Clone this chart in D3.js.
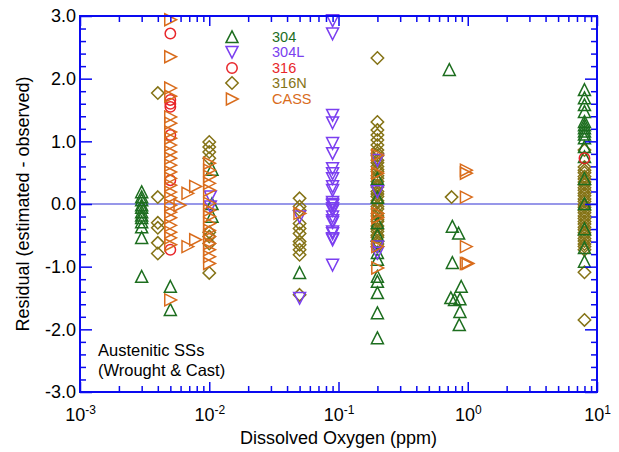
<!DOCTYPE html>
<html>
<head>
<meta charset="utf-8">
<script src="https://cdn.jsdelivr.net/npm/d3@7"></script>
<style>
  html, body { margin: 0; padding: 0; background: #fff; }
  svg { display: block; }
  text { font-family: "Liberation Sans", Arial, sans-serif; }
</style>
</head>
<body>
<svg id="chart" width="619" height="452"></svg>
<script>
// ---------------- DATA ----------------
const seriesNames = ["304", "304L", "316", "316N", "CASS"];
const seriesColors = ["#1d6e1f", "#7b3ff0", "#e8262a", "#857316", "#d96c1c"];

// each point: [dissolved oxygen (ppm), residual]
const data304 = [
  [0.003,0.19],[0.003,0.11],[0.003,0.06],[0.003,-0.02],[0.003,-0.06],[0.003,-0.13],[0.003,-0.18],
  [0.003,-0.22],[0.003,-0.29],[0.003,-0.37],[0.003,-0.54],[0.003,-1.16],
  [0.005,-1.32],[0.005,-1.69],
  [0.0105,0.55],[0.0105,0.0],[0.0105,-0.2],
  [0.05,-1.1],
  [0.2,0.4],[0.2,0.1],[0.2,-0.3],[0.2,-0.5],[0.2,-0.78],[0.2,-0.89],[0.2,-1.16],[0.2,-1.24],
  [0.2,-1.42],[0.2,-1.74],[0.2,-2.14],
  [0.72,2.14],[0.76,-0.36],[0.85,-0.47],[0.76,-0.94],[0.89,-1.32],[0.74,-1.5],[0.79,-1.53],
  [0.87,-1.52],[0.87,-1.72],[0.86,-1.93],
  [8,1.82],[8,1.69],[8,1.58],[8,1.47],[8,1.31],[8,1.26],[8,1.21],[8,1.16],[8,1.11],[8,1.05],
  [8,0.91],[8,0.75],[8,0.4],[8,0.0],[8,-0.4],[8,-0.7],[8,-0.92]
];
const data304L = [
  [0.0102,0.12],[0.0102,-0.04],
  [0.05,-0.2],[0.05,-1.5],
  [0.09,2.93],[0.09,2.72],[0.09,1.42],[0.09,1.3],[0.09,0.97],[0.09,0.81],[0.09,0.57],[0.09,0.49],
  [0.09,0.41],[0.09,0.28],[0.09,0.22],[0.09,0.03],[0.09,0.0],[0.09,-0.02],[0.09,-0.07],[0.09,-0.1],
  [0.09,-0.2],[0.09,-0.26],[0.09,-0.29],[0.09,-0.44],[0.09,-0.47],[0.09,-0.55],[0.09,-0.57],[0.09,-0.97],
  [0.2,0.7],[0.2,0.2],[0.2,-0.68],[0.2,-0.78]
];
const data316 = [
  [0.005,2.72],[0.005,1.66],[0.005,1.6],[0.005,1.55],[0.005,1.1],[0.005,0.38],[0.005,-0.73],
  [8,0.73]
];
const data316N = [
  [0.004,1.77],[0.004,0.11],[0.004,-0.3],[0.004,-0.38],[0.004,-0.62],[0.004,-0.79],
  [0.01,0.99],[0.01,0.91],[0.01,0.83],[0.01,0.73],[0.01,-0.45],[0.01,-0.52],[0.01,-0.63],[0.01,-1.1],
  [0.05,0.09],[0.05,-0.04],[0.05,-0.1],[0.05,-0.31],[0.05,-0.39],[0.05,-0.47],[0.05,-0.6],
  [0.05,-0.65],[0.05,-0.73],[0.05,-0.81],[0.05,-1.45],
  [0.2,2.33],[0.2,1.31],[0.2,1.18],[0.2,1.1],[0.2,1.02],[0.2,0.94],[0.2,0.86],[0.2,0.81],[0.2,0.77],
  [0.2,0.7],[0.2,0.66],[0.2,0.6],[0.2,0.55],[0.2,0.52],[0.2,0.45],[0.2,0.41],[0.2,0.36],[0.2,0.3],
  [0.2,0.27],[0.2,0.2],[0.2,0.16],[0.2,0.12],[0.2,0.05],[0.2,0.02],[0.2,-0.04],[0.2,-0.08],[0.2,-0.15],
  [0.2,-0.19],[0.2,-0.25],[0.2,-0.28],[0.2,-0.35],[0.2,-0.4],[0.2,-0.44],[0.2,-0.5],[0.2,-0.53],
  [0.2,-0.6],[0.2,-0.64],[0.2,-0.68],
  [0.75,0.11],
  [8,0.86],[8,0.59],[8,0.54],[8,0.5],[8,0.44],[8,0.4],[8,0.35],[8,0.31],[8,0.26],[8,0.22],[8,0.17],
  [8,0.13],[8,0.08],[8,0.04],[8,-0.01],[8,-0.05],[8,-0.1],[8,-0.14],[8,-0.19],[8,-0.23],[8,-0.28],
  [8,-0.32],[8,-0.37],[8,-0.41],[8,-0.46],[8,-0.5],[8,-0.55],[8,-0.59],[8,-0.64],[8,-0.68],[8,-0.73],
  [8,-1.09],[8,-1.85]
];
const dataCASS = [
  [0.005,2.94],[0.005,2.35],[0.005,1.85],[0.005,1.72],[0.005,1.39],[0.005,1.29],[0.005,1.15],
  [0.005,1.05],[0.005,0.94],[0.005,0.83],[0.005,0.73],[0.005,0.62],[0.005,0.51],[0.005,0.41],
  [0.005,0.3],[0.005,0.19],[0.005,0.1],[0.005,-0.02],[0.005,-0.13],[0.005,-0.22],[0.005,-0.34],
  [0.005,-0.45],[0.005,-0.54],[0.005,-0.65],[0.005,-1.53],
  [0.0059,-0.02],[0.0068,0.17],[0.0068,-0.68],[0.0078,0.28],[0.0078,-0.57],
  [0.01,0.65],[0.01,0.54],[0.01,0.44],[0.01,0.33],[0.01,0.22],[0.01,0.01],[0.01,-0.1],[0.01,-0.2],
  [0.01,-0.31],[0.01,-0.42],[0.01,-0.52],[0.01,-0.63],[0.01,-0.73],[0.01,-0.84],[0.01,-0.95],
  [0.05,-0.15],
  [0.2,0.78],[0.2,0.49],[0.2,-0.15],[0.2,-0.22],[0.2,-0.68],[0.2,-1.02],
  [0.97,0.54],[0.97,0.49],[0.97,0.11],[0.97,-0.68],[0.97,-0.95],[1.0,-0.95]
];

const yTickValues = [3, 2, 1, 0, -1, -2, -3];
const yTickLabels = ["3.0", "2.0", "1.0", "0.0", "-1.0", "-2.0", "-3.0"];
const xTickExponents = [-3, -2, -1, 0, 1];
const xLabel = "Dissolved Oxygen (ppm)";
const yLabel = "Residual (estimated - observed)";
const noteLines = ["Austenitic SSs", "(Wrought & Cast)"];

// ---------------- CHART ----------------
const svg = d3.select("#chart");
const L = 80, R = 597, T = 16, B = 392;
const axisBlue = "#0a0af0";

const x = d3.scaleLog().domain([1e-3, 10]).range([L, R]);
const y = d3.scaleLinear().domain([-3, 3]).range([B, T]);

// zero line
svg.append("line")
  .attr("x1", L).attr("x2", R).attr("y1", y(0)).attr("y2", y(0))
  .attr("stroke", "#7474e2").attr("stroke-width", 1.5);

// marker shapes
const shapes = {
  up: "M0,-6.2 L6,5.6 L-6,5.6 Z",
  down: "M0,6.2 L6,-5.6 L-6,-5.6 Z",
  right: "M6.2,0 L-5.6,-6 L-5.6,6 Z",
  diamond: "M0,-6.2 L6.2,0 L0,6.2 L-6.2,0 Z",
  circle: "M5.2,0 A5.2,5.2 0 1,1 -5.2,0 A5.2,5.2 0 1,1 5.2,0 Z"
};
const seriesShapes = ["up", "down", "circle", "diamond", "right"];
const seriesData = [data304, data304L, data316, data316N, dataCASS];

const drawOrder = [3, 0, 1, 2, 4];
const marks = svg.append("g");
drawOrder.forEach(i => {
  marks.append("g").selectAll("path")
    .data(seriesData[i]).join("path")
    .attr("d", shapes[seriesShapes[i]])
    .attr("transform", d => `translate(${x(d[0])},${y(d[1])})`)
    .attr("fill", "none")
    .attr("stroke", seriesColors[i])
    .attr("stroke-width", 1.5);
});

// axes
const minorX = [];
for (let e = -3; e < 1; e++) for (let m = 2; m <= 9; m++) minorX.push(m * Math.pow(10, e));
const minorY = d3.range(-30, 31, 2).map(v => v / 10).filter(v => Math.abs(v - Math.round(v)) > 1e-9);

function styleAxis(g) {
  g.select(".domain").remove();
  g.selectAll(".tick line").attr("stroke", axisBlue).attr("stroke-width", 1.5);
}

// bottom
svg.append("g").attr("transform", `translate(0,${B})`)
  .call(d3.axisBottom(x).tickValues(minorX).tickSize(-6).tickFormat(""))
  .call(styleAxis);
const bx = svg.append("g").attr("transform", `translate(0,${B})`)
  .call(d3.axisBottom(x).tickValues(xTickExponents.map(e => Math.pow(10, e))).tickSize(-10).tickPadding(16))
  .call(styleAxis);
bx.selectAll(".tick text").each(function(d, i) {
  const t = d3.select(this);
  t.text("").attr("fill", "#000").attr("font-size", 18).attr("font-family", "Liberation Sans, Arial, sans-serif");
  t.append("tspan").text("10");
  t.append("tspan").text(String(xTickExponents[i])).attr("font-size", 12).attr("dy", "-7");
});
// top
svg.append("g").attr("transform", `translate(0,${T})`)
  .call(d3.axisTop(x).tickValues(minorX).tickSize(-6).tickFormat(""))
  .call(styleAxis);
svg.append("g").attr("transform", `translate(0,${T})`)
  .call(d3.axisTop(x).tickValues(xTickExponents.map(e => Math.pow(10, e))).tickSize(-10).tickFormat(""))
  .call(styleAxis);
// left
svg.append("g").attr("transform", `translate(${L},0)`)
  .call(d3.axisLeft(y).tickValues(minorY).tickSize(-6).tickFormat(""))
  .call(styleAxis);
const ly = svg.append("g").attr("transform", `translate(${L},0)`)
  .call(d3.axisLeft(y).tickValues(yTickValues).tickSize(-12).tickPadding(4)
    .tickFormat((d, i) => yTickLabels[i]))
  .call(styleAxis);
ly.selectAll(".tick text").attr("fill", "#000").attr("font-size", 18)
  .attr("font-family", "Liberation Sans, Arial, sans-serif");
// right
svg.append("g").attr("transform", `translate(${R},0)`)
  .call(d3.axisRight(y).tickValues(minorY).tickSize(-6).tickFormat(""))
  .call(styleAxis);
svg.append("g").attr("transform", `translate(${R},0)`)
  .call(d3.axisRight(y).tickValues(yTickValues).tickSize(-12).tickFormat(""))
  .call(styleAxis);

// frame
svg.append("rect").attr("x", L).attr("y", T).attr("width", R - L).attr("height", B - T)
  .attr("fill", "none").attr("stroke", axisBlue).attr("stroke-width", 2);

// axis titles
svg.append("text").attr("x", (L + R) / 2).attr("y", 444).attr("text-anchor", "middle")
  .attr("font-size", 18).attr("fill", "#000").text(xLabel);
svg.append("text").attr("transform", `translate(29,${y(0)}) rotate(-90)`).attr("text-anchor", "middle")
  .attr("font-size", 18).attr("fill", "#000").text(yLabel);

// note
noteLines.forEach((s, i) => {
  svg.append("text").attr("x", 98).attr("y", 356 + i * 20).attr("font-size", 16.5)
    .attr("fill", "#000").text(s);
});

// legend
const legRows = [37, 52, 68, 83, 99];
seriesNames.forEach((name, i) => {
  svg.append("path").attr("d", shapes[seriesShapes[i]])
    .attr("transform", `translate(232,${legRows[i]})`)
    .attr("fill", "none").attr("stroke", seriesColors[i]).attr("stroke-width", 1.5);
  svg.append("text").attr("x", 272).attr("y", legRows[i]).attr("dy", "0.36em")
    .attr("font-size", 14.5).attr("fill", seriesColors[i]).text(name);
});
</script>
</body>
</html>
